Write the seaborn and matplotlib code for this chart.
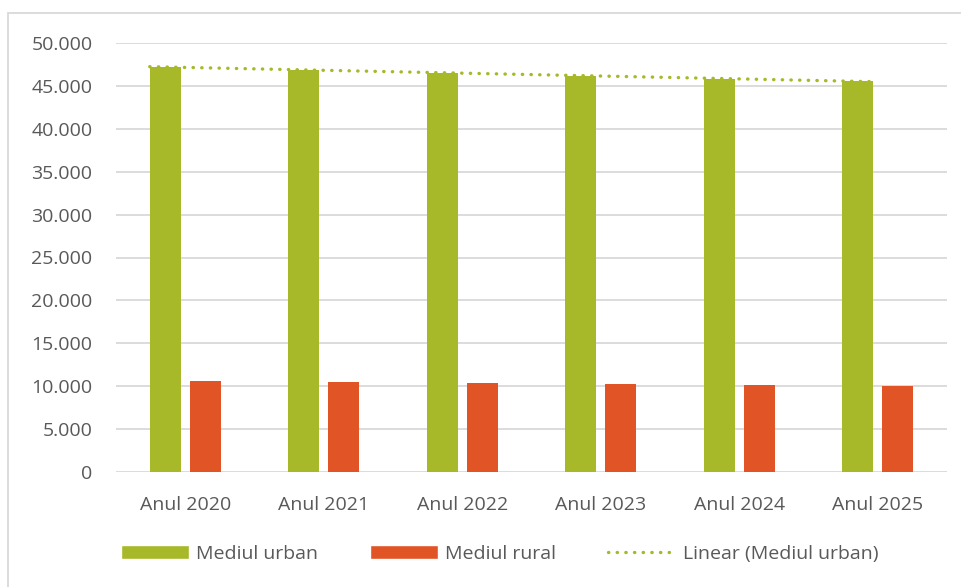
import numpy as np
import pandas as pd
import matplotlib
matplotlib.use("Agg")
import matplotlib.pyplot as plt
import seaborn as sns
from matplotlib.patches import Patch, Rectangle
from matplotlib.lines import Line2D

years = ["Anul 2020", "Anul 2021", "Anul 2022", "Anul 2023", "Anul 2024", "Anul 2025"]
urban = [47200, 46900, 46500, 46200, 45850, 45550]
rural = [10600, 10480, 10340, 10220, 10100, 9990]
series = ["Mediul urban", "Mediul rural"]
colors = ["#A7B828", "#E05426"]
text_col = "#595959"

data = pd.DataFrame({
    "An": years * 2,
    "Mediu": [series[0]] * len(years) + [series[1]] * len(years),
    "Valoare": urban + rural,
})

sns.set_style("white")
plt.rcParams["font.family"] = ["Open Sans", "DejaVu Sans"]

fig = plt.figure(figsize=(9.61, 5.87), dpi=100)
ax = fig.add_axes([116 / 961, 115 / 587, 831 / 961, 429 / 587])

sns.barplot(data=data, x="An", y="Valoare", hue="Mediu", palette=colors,
            width=0.578, gap=0.225, ax=ax, legend=False, saturation=1, linewidth=0)

# linear trend of urban series, spanning the green bars
idx = np.arange(len(urban))
slope, icpt = np.polyfit(idx, urban, 1)
xs = np.array([-0.2565, len(urban) - 1 - 0.0325])
ax.plot(xs, slope * (xs + 0.1445) + icpt, color=colors[0], lw=2.4,
        linestyle=(0, (0.1, 2.5)), dash_capstyle="round", zorder=5)

ax.set_xlim(-0.5, 5.5)
ax.set_ylim(0, 50000)
ax.set_yticks(range(0, 50001, 5000))
ax.set_yticklabels([f"{v:,.0f}".replace(",", ".") for v in range(0, 50001, 5000)])
ax.grid(axis="y", color="#D9D9D9", lw=1.3)
ax.set_axisbelow(True)
for s in ax.spines.values():
    s.set_visible(False)
ax.set_xlabel("")
ax.set_ylabel("")
ax.tick_params(axis="y", length=0, pad=17, labelsize=14, labelcolor=text_col)
ax.tick_params(axis="x", length=0, pad=17, labelsize=14, labelcolor=text_col)

handles = [
    Patch(facecolor=colors[0], label="Mediul urban"),
    Patch(facecolor=colors[1], label="Mediul rural"),
    Line2D([0], [0], color=colors[0], lw=2.4, linestyle=(0, (0.1, 2.5)),
           dash_capstyle="round", label="Linear (Mediul urban)"),
]
fig.legend(handles=handles, loc="center", bbox_to_anchor=(0.52, 33 / 587), ncol=3,
           frameon=False, fontsize=14, labelcolor=text_col, handlelength=3.5,
           handleheight=0.75, handletextpad=0.35, columnspacing=2.7)

# chart area border
fig.patches.append(Rectangle((8 / 961, -0.05), 1.1, 1.05 - 13 / 587,
                             transform=fig.transFigure, fill=False,
                             edgecolor="#D9D9D9", lw=1.3))

fig.savefig("out.png", dpi=100)
